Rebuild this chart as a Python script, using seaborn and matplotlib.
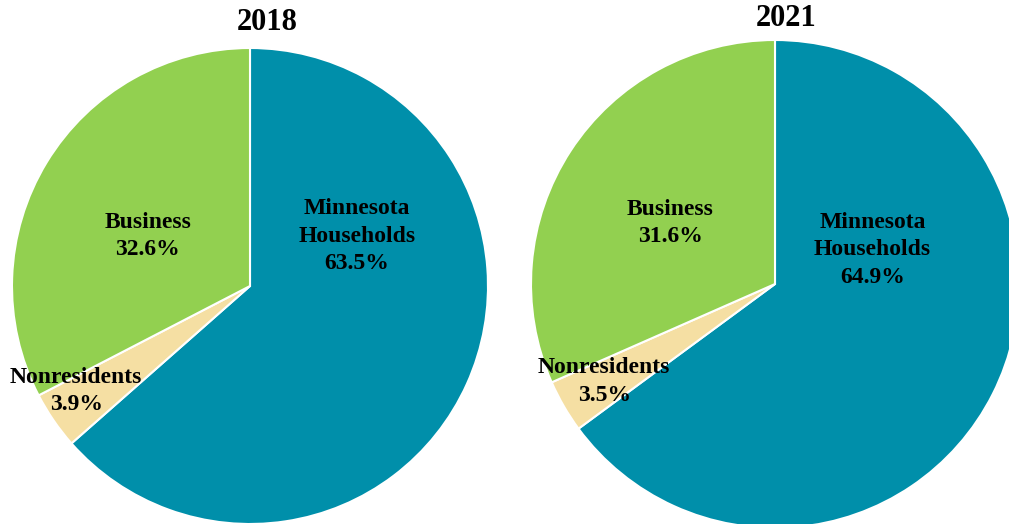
import matplotlib
matplotlib.use("Agg")
from matplotlib import pyplot as plt
import seaborn as sns

# slice data, clockwise from 12 o'clock
categories = ['Minnesota\nHouseholds', 'Nonresidents', 'Business']
share_2018 = [63.5, 3.9, 32.6]
share_2021 = [64.9, 3.5, 31.6]
years = ['2018', '2021']
colors = ['#008FAA', '#F5DFA3', '#92D050']

sns.set_theme(style="white")
plt.rcParams['font.family'] = ['Liberation Serif', 'DejaVu Serif']

W, H = 1009, 524
fig = plt.figure(figsize=(W / 100, H / 100), dpi=100)


def pie_axes(cx, cy, r):
    # cx, cy, r in pixels (cy measured from top)
    return fig.add_axes([(cx - r) / W, (H - cy - r) / H, 2 * r / W, 2 * r / H])


# label anchor offsets in radius units
label_pos = {
    '2018': [(0.45, 0.21), (-0.73, -0.44), (-0.43, 0.21)],
    '2021': [(0.40, 0.14), (-0.70, -0.40), (-0.43, 0.25)],
}

# year, values, pie centre x/y, radius, title x/y
setups = [(years[0], share_2018, 250, 286, 238, 267, 22),
          (years[1], share_2021, 775, 284, 244, 786, 18)]

for year, vals, cx, cy, r, tx, ty in setups:
    ax = pie_axes(cx, cy, r)
    ax.pie(vals, colors=colors, startangle=90, counterclock=False, radius=1,
           wedgeprops=dict(edgecolor='white', linewidth=1.5))
    ax.set_xlim(-1, 1)
    ax.set_ylim(-1, 1)
    ax.set_aspect('equal')
    ax.axis('off')
    for cat, v, (x, y) in zip(categories, vals, label_pos[year]):
        ax.text(x, y, f"{cat}\n{v:.1f}%", ha='center', va='center',
                fontsize=17, fontweight='bold', color='black',
                linespacing=1.4)
    fig.text(tx / W, 1 - ty / H, year, ha='center', va='center',
             fontsize=22, fontweight='bold', color='black')

fig.savefig('out.png', dpi=100)
